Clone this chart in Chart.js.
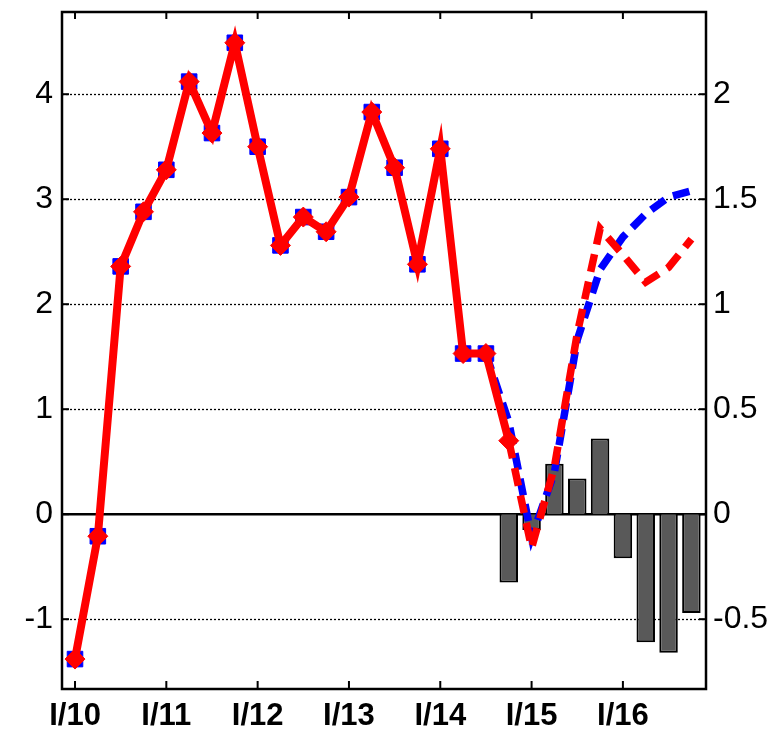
<!DOCTYPE html>
<html>
<head>
<meta charset="utf-8">
<script src="https://cdn.jsdelivr.net/npm/chart.js@4/dist/chart.umd.min.js"></script>
<style>
  html, body { margin: 0; padding: 0; background: #fff; }
  #wrap { width: 784px; height: 734px; position: relative; }
</style>
</head>
<body>
<div id="wrap"><canvas id="chart"></canvas></div>
<script>
// Quarters I/10 .. IV/16
const quarters = [
    'I/10', 'II/10', 'III/10', 'IV/10',
    'I/11', 'II/11', 'III/11', 'IV/11',
    'I/12', 'II/12', 'III/12', 'IV/12',
    'I/13', 'II/13', 'III/13', 'IV/13',
    'I/14', 'II/14', 'III/14', 'IV/14',
    'I/15', 'II/15', 'III/15', 'IV/15',
    'I/16', 'II/16', 'III/16', 'IV/16'
];

// Solid red line (actual), from I/10
const redActual = [-1.38, -0.21, 2.36, 2.88, 3.28, 4.12, 3.63, 4.49, 3.50, 2.56,
                   2.83, 2.69, 3.02, 3.83, 3.30, 2.38, 3.48, 1.53, 1.53, 0.70];
// Blue squares (actual), from I/10
const blueActual = [-1.38, -0.21, 2.36, 2.88, 3.28, 4.12, 3.63, 4.49, 3.50, 2.56,
                    2.83, 2.69, 3.02, 3.83, 3.30, 2.38, 3.48, 1.53, 1.53];
// Dashed blue, starts at III/14
const blueForecast = [1.53, 0.88, -0.22, 0.40, 1.66, 2.33, 2.64, 2.86, 3.02, 3.08];
const blueForecastStart = 18;
// Dashed red, starts at IV/14
const redForecast = [0.70, -0.32, 0.45, 1.72, 2.72, 2.47, 2.21, 2.35, 2.62];
const redForecastStart = 19;
// Grey bars (right axis), start at IV/14
const barValues = [-0.325, -0.075, 0.24, 0.17, 0.36, -0.21, -0.61, -0.66, -0.47];
const barStart = 19;

const leftTicks = [-1, 0, 1, 2, 3, 4];
const rightTicks = [-0.5, 0, 0.5, 1, 1.5, 2];
const yearTicks = quarters.map((q, i) => q.startsWith('I/') ? i : null).filter(v => v !== null);

const toPoints = (vals, start) => vals.map((y, i) => ({ x: start + i, y: y }));

// Grid lines and zero line under the data
const gridPlugin = {
    id: 'gridLines',
    beforeDatasetsDraw(chart) {
        const { ctx, chartArea: a, scales } = chart;
        ctx.save();
        ctx.strokeStyle = '#000';
        ctx.lineWidth = 1.3;
        ctx.setLineDash([2, 2]);
        leftTicks.forEach(v => {
            if (v === 0) return;
            const y = Math.round(scales.y.getPixelForValue(v)) + 0.5;
            ctx.beginPath();
            ctx.moveTo(a.left, y);
            ctx.lineTo(a.right, y);
            ctx.stroke();
        });
        ctx.setLineDash([]);
        ctx.lineWidth = 2.5;
        const y0 = scales.y.getPixelForValue(0);
        ctx.beginPath();
        ctx.moveTo(a.left, y0);
        ctx.lineTo(a.right, y0);
        ctx.stroke();
        ctx.restore();
    },
    afterDraw(chart) {
        const { ctx, chartArea: a, scales } = chart;
        ctx.save();
        ctx.strokeStyle = '#000';
        ctx.lineWidth = 2.5;
        ctx.strokeRect(a.left, a.top, a.right - a.left, a.bottom - a.top);
        ctx.lineWidth = 2;
        // inward ticks
        yearTicks.forEach(v => {
            const x = scales.x.getPixelForValue(v);
            ctx.beginPath();
            ctx.moveTo(x, a.bottom); ctx.lineTo(x, a.bottom - 8);
            ctx.moveTo(x, a.top); ctx.lineTo(x, a.top + 7);
            ctx.stroke();
        });
        leftTicks.forEach(v => {
            const y = scales.y.getPixelForValue(v);
            ctx.beginPath();
            ctx.moveTo(a.left, y); ctx.lineTo(a.left + 7, y);
            ctx.stroke();
        });
        rightTicks.forEach(v => {
            const y = scales.y1.getPixelForValue(v);
            ctx.beginPath();
            ctx.moveTo(a.right, y); ctx.lineTo(a.right - 7, y);
            ctx.stroke();
        });
        ctx.restore();
    }
};

const labelFont = { family: "'Liberation Sans', Arial, sans-serif", size: 32 };

// keep the plot area edges fixed, no extra room for half labels
const noPad = s => { s.paddingTop = 0; s.paddingBottom = 0; s.paddingLeft = 0; s.paddingRight = 0; };

new Chart(document.getElementById('chart'), {
    type: 'line',
    data: {
        datasets: [
            {
                type: 'bar',
                data: toPoints(barValues, barStart),
                yAxisID: 'y1',
                backgroundColor: '#595959',
                borderColor: '#000',
                borderWidth: 2,
                barPercentage: 1,
                categoryPercentage: 0.81,
                order: 10
            },
            {
                data: toPoints(blueActual, 0),
                yAxisID: 'y',
                borderColor: '#0000ff',
                borderWidth: 6,
                pointStyle: 'rect',
                pointRadius: 11,
                pointBackgroundColor: '#0000ff',
                pointBorderColor: '#0000ff',
                pointBorderWidth: 1,
                order: 6
            },
            {
                data: toPoints(blueForecast, blueForecastStart),
                yAxisID: 'y',
                borderColor: '#0000ff',
                borderWidth: 7.5,
                borderDash: [17, 9],
                pointRadius: 0,
                order: 5
            },
            {
                data: toPoints(redForecast, redForecastStart),
                yAxisID: 'y',
                borderColor: '#ff0000',
                borderWidth: 7.5,
                borderDash: [18, 10],
                pointRadius: 0,
                order: 2
            },
            {
                data: toPoints(redActual, 0),
                yAxisID: 'y',
                borderColor: '#ff0000',
                borderWidth: 8,
                pointStyle: 'rectRot',
                pointRadius: 10,
                pointBackgroundColor: '#ff0000',
                pointBorderColor: '#ff0000',
                pointBorderWidth: 1,
                order: 1
            }
        ]
    },
    options: {
        responsive: true,
        maintainAspectRatio: false,
        animation: false,
        events: [],
        layout: { padding: { top: 6, left: 0, right: 0, bottom: 0 } },
        plugins: {
            legend: { display: false },
            tooltip: { enabled: false }
        },
        scales: {
            x: {
                type: 'linear',
                min: -0.57,
                max: 27.64,
                offset: false,
                afterBuildTicks: s => { s.ticks = yearTicks.map(v => ({ value: v })); },
                afterFit: s => { s.height = 45; noPad(s); },
                grid: { display: false, drawTicks: false },
                border: { display: false },
                ticks: {
                    color: '#000',
                    font: { ...labelFont, size: 31, weight: 'bold' },
                    padding: 9,
                    maxRotation: 0,
                    autoSkip: false,
                    callback: v => quarters[v]
                }
            },
            y: {
                type: 'linear',
                position: 'left',
                min: -1.665,
                max: 4.783,
                afterBuildTicks: s => { s.ticks = leftTicks.map(v => ({ value: v })); },
                afterFit: s => { s.width = 62; noPad(s); },
                grid: { display: false, drawTicks: false },
                border: { display: false },
                ticks: {
                    color: '#000',
                    font: labelFont,
                    padding: 9,
                    callback: v => String(v)
                }
            },
            y1: {
                type: 'linear',
                position: 'right',
                min: -0.8325,
                max: 2.3915,
                afterBuildTicks: s => { s.ticks = rightTicks.map(v => ({ value: v })); },
                afterFit: s => { s.width = 78; noPad(s); },
                grid: { display: false, drawTicks: false },
                border: { display: false },
                ticks: {
                    color: '#000',
                    font: labelFont,
                    padding: 7,
                    callback: v => String(v)
                }
            }
        }
    },
    plugins: [gridPlugin]
});
</script>
</body>
</html>
